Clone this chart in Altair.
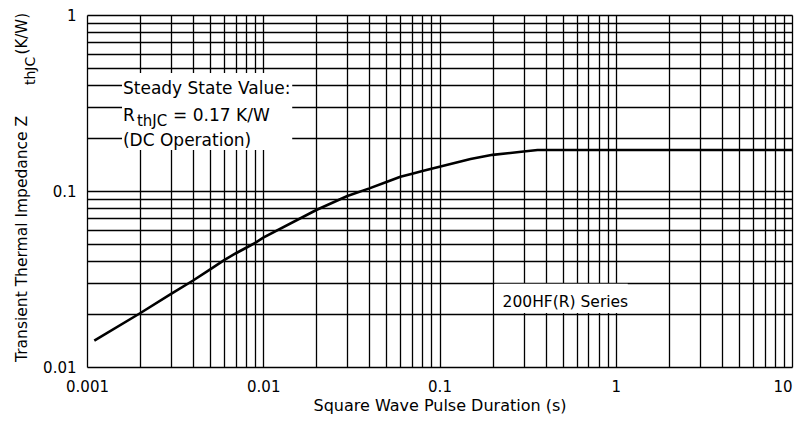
import altair as alt
import pandas as pd

# ---- data ----
pulse_s = [0.0011, 0.002, 0.003, 0.004, 0.005, 0.006, 0.007, 0.008, 0.009, 0.01,
           0.02, 0.03, 0.04, 0.05, 0.06, 0.07, 0.08, 0.09, 0.1, 0.15, 0.2, 0.3, 0.36, 10]
zthjc = [0.0141, 0.0202, 0.026, 0.031, 0.0359, 0.0405, 0.0443, 0.0476, 0.0508, 0.0543,
         0.078, 0.0937, 0.1035, 0.1125, 0.1205, 0.1255, 0.1298, 0.1338, 0.1375, 0.152,
         0.1605, 0.1675, 0.171, 0.171]

x_decades = [0.001, 0.01, 0.1, 1, 10]
y_decades = [0.01, 0.1, 1]
x_grid = [round(m * 10.0 ** e, 6) for e in range(-3, 1) for m in range(1, 10)] + [10]
y_grid = [round(m * 10.0 ** e, 6) for e in range(-2, 0) for m in range(1, 10)] + [1]

ann_text = ["Steady State Value:", "R", "thJC", "= 0.17 K/W", "(DC Operation)", "200HF(R) Series"]
ann_x = [0.0016, 0.0016, 0.00192, 0.00308, 0.0016, 0.228]
ann_y = [0.356, 0.25, 0.234, 0.25, 0.179, 0.0219]
ann_size = [17, 17, 15, 17, 17, 15.5]

box_x1 = [0.00158, 0.205]
box_x2 = [0.0146, 1.17]
box_y1 = [0.171, 0.0203]
box_y2 = [0.468, 0.0297]

FONT = "DejaVu Sans"

curve = pd.DataFrame({"t": pulse_s, "z": zthjc})
ann = pd.DataFrame({"text": ann_text, "x": ann_x, "y": ann_y, "size": ann_size})
boxes = pd.DataFrame({"x1": box_x1, "x2": box_x2, "y1": box_y1, "y2": box_y2})

xscale = alt.Scale(type="log", domain=[0.001, 10], nice=False)
yscale = alt.Scale(type="log", domain=[0.01, 1], nice=False)

xaxis = alt.Axis(
    values=x_grid, format="~g",
    labelExpr="indexof(%s, datum.value) >= 0 ? datum.label : ''" % str(x_decades),
    labelAlign={"condition": {"test": "datum.value >= 10", "value": "right"}, "value": "center"},
    grid=True, gridColor="black", gridOpacity=1, gridWidth=1.3,
    domain=False, ticks=False, labelPadding=12, labelFlush=False, labelOverlap=False,
    labelBound=False, labelFont=FONT, labelFontSize=15, labelColor="black",
    title="Square Wave Pulse Duration (s)", titleFont=FONT, titleFontSize=16,
    titleFontWeight="normal", titleColor="black", titleY=43, titleBaseline="alphabetic",
)
yaxis = alt.Axis(
    values=y_grid, format="~g",
    labelExpr="indexof(%s, datum.value) >= 0 ? datum.label : ''" % str(y_decades),
    grid=True, gridColor="black", gridOpacity=1, gridWidth=1.3,
    domain=False, ticks=False, labelPadding=11, labelFlush=False, labelOverlap=False,
    labelBound=False, labelFont=FONT, labelFontSize=15, labelColor="black",
    title=None,
)

rects = alt.Chart(boxes).mark_rect(fill="white").encode(
    x=alt.X("x1:Q", scale=xscale, axis=xaxis),
    x2="x2:Q",
    y=alt.Y("y1:Q", scale=yscale, axis=yaxis),
    y2="y2:Q",
)

line = alt.Chart(curve).mark_line(color="black", strokeWidth=2.6).encode(
    x=alt.X("t:Q", scale=xscale, axis=xaxis),
    y=alt.Y("z:Q", scale=yscale, axis=yaxis),
)

texts = alt.Chart(ann).mark_text(
    align="left", baseline="alphabetic", font=FONT, color="black"
).encode(
    x=alt.X("x:Q", scale=xscale, axis=xaxis),
    y=alt.Y("y:Q", scale=yscale, axis=yaxis),
    text="text:N",
    size=alt.Size("size:Q", scale=None, legend=None),
)

def ytitle_piece(txt, px, py, fs, align):
    return alt.Chart(pd.DataFrame({"t": [txt]})).mark_text(
        angle=270, align=align, baseline="alphabetic", font=FONT, fontSize=fs, color="black"
    ).encode(x=alt.value(px), y=alt.value(py), text="t:N")

yt1 = ytitle_piece("Transient Thermal Impedance Z", -60.5, 347, 15.5, "left")
yt2 = ytitle_piece("thJC", -52, 70, 14, "left")
yt3 = ytitle_piece("(K/W)", -60.5, -2, 15, "right")

chart = alt.layer(rects, line, texts, yt1, yt2, yt3).properties(
    width=705, height=352,
    autosize=alt.AutoSizeParams(type="none"),
    padding={"left": 79, "top": 7, "right": 2, "bottom": 47},
).configure_view(stroke="black", strokeWidth=1.3).configure(background="white")

chart.save("out.html", embed_options={"renderer": "svg", "actions": False})
